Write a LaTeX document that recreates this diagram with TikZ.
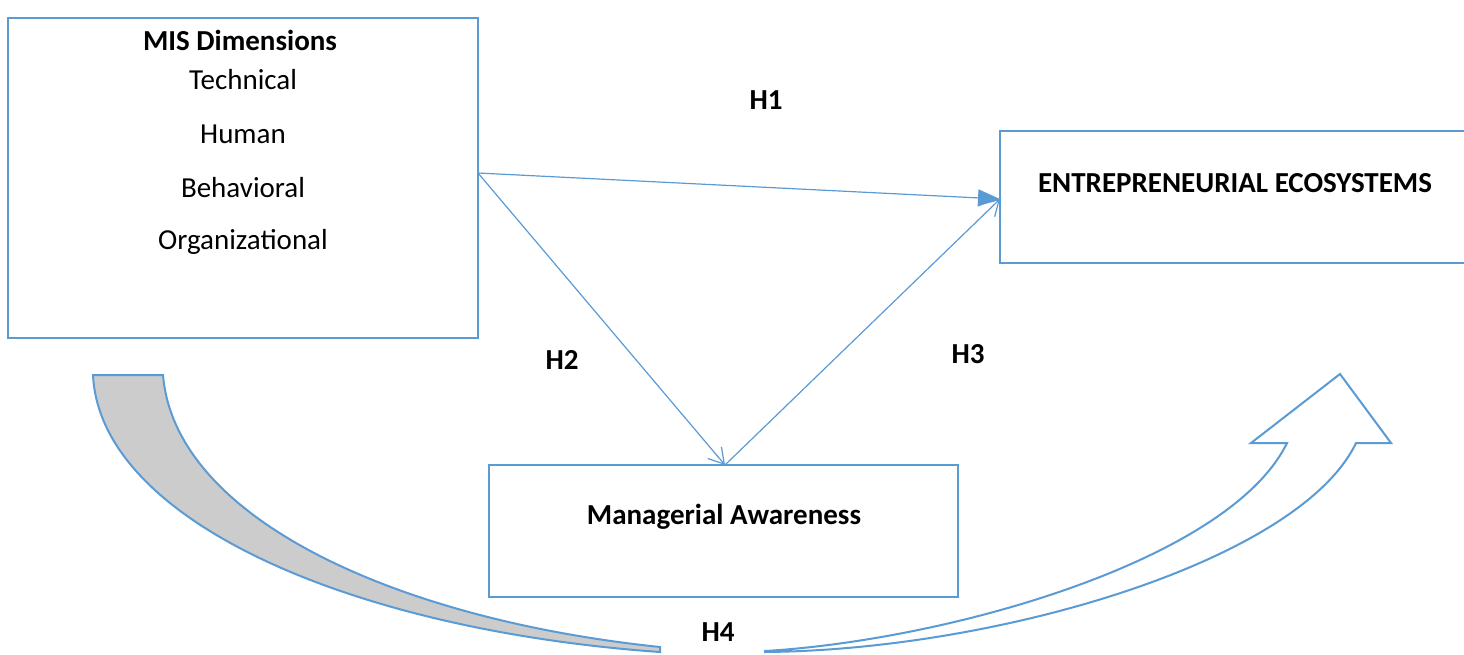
\documentclass[tikz,border=0pt]{standalone}
\usepackage{fontspec}
\setmainfont{Carlito}
\usetikzlibrary{arrows.meta}
\definecolor{wblue}{RGB}{91,155,213}
\definecolor{bandgray}{RGB}{204,204,204}
\tikzset{
  box/.style={draw=wblue, line width=2.5pt, rectangle, inner sep=0pt},
  txt/.style={font=\fontsize{29}{35}\selectfont, inner sep=0pt},
  btxt/.style={font=\fontsize{29}{35}\selectfont\bfseries, inner sep=0pt},
  conn/.style={draw=wblue, line width=1.2pt},
  openarr/.style={conn, -{Straight Barb[length=15pt,width=18pt,line width=1.2pt]}},
  filledarr/.style={conn, -{Triangle[length=22pt,width=17pt]}},
  arrowshape/.style={draw=wblue, line width=2pt, line join=miter}
}
\begin{document}
\begin{tikzpicture}[x=1pt,y=-1pt]
\clip (0,0) rectangle (1464,654);
\fill[white] (0,0) rectangle (1464,654);
% boxes
\node[box, minimum width=470pt, minimum height=320pt] (mis) at (243,178) {};
\node[box, minimum width=470pt, minimum height=132pt] (ent) at (1235,197) {};
\node[box, minimum width=469pt, minimum height=132pt] (man) at (723.5,531) {};
% texts
\node[btxt] (t0) at (240,40) {MIS Dimensions};
\node[txt] (t1) at (243,80) {Technical};
\node[txt] (t2) at (243,134) {Human};
\node[txt] (t3) at (243,188) {Behavioral};
\node[txt] (t4) at (243,242) {Organizational};
\node[btxt] (entt) at (1235,183) {ENTREPRENEURIAL ECOSYSTEMS};
\node[btxt] (mant) at (724,517) {Managerial Awareness};
\node[btxt] (h1) at (766,100) {H1};
\node[btxt] (h2) at (562,360) {H2};
\node[btxt] (h3) at (968,354) {H3};
\node[btxt] (h4) at (718,632) {H4};
% connectors
\coordinate (s) at (478,173);
\coordinate (e) at (1000,199);
\coordinate (m) at (725,465);
\draw[filledarr] (s) -- (e);
\draw[openarr] (s) -- (m);
\draw[openarr] (m) -- (e);
% curved up arrow: shaded back band
\draw[arrowshape, fill=bandgray] (93,375) -- (163,375)
  .. controls (175,520) and (400,620) .. (660,647)
  -- (660,652)
  .. controls (350,630) and (100,520) .. (93,375) -- cycle;
% front arrow
\draw[arrowshape, fill=white] (765,652)
  .. controls (1000,650) and (1300,560) .. (1356,443)
  -- (1391,443) -- (1340,374) -- (1251,443) -- (1287,443)
  .. controls (1230,560) and (950,640) .. (765,651) -- cycle;
\end{tikzpicture}
\end{document}
